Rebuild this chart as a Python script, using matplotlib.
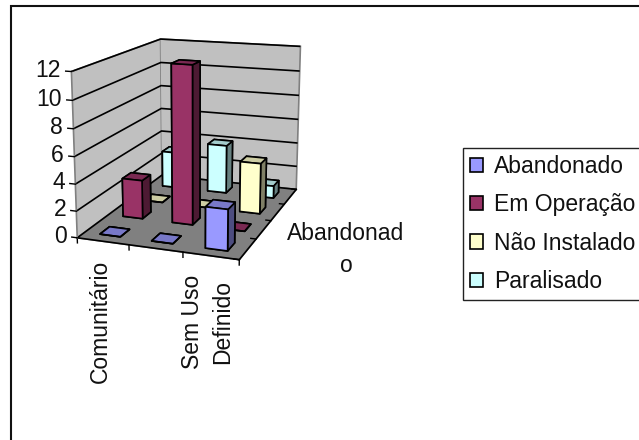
import numpy as np
import matplotlib
matplotlib.use('Agg')
import matplotlib.pyplot as plt
from matplotlib.patches import Patch, Rectangle
from mpl_toolkits.mplot3d import proj3d

plt.rcParams['font.family'] = ['Liberation Sans', 'DejaVu Sans']

# data
categories = ['Comunitário', '', 'Sem Uso\nDefinido']
series_names = ['Abandonado', 'Em Operação', 'Não Instalado', 'Paralisado']
abandonado = [0, 0, 3]
em_operacao = [3, 12, 0]
nao_instalado = [0, 0, 4]
paralisado = [3, 4, 1]
z_ticks = [0, 2, 4, 6, 8, 10, 12]
depth_label = 'Abandonad\no'

series_values = [abandonado, em_operacao, nao_instalado, paralisado]
front_colors = ['#9999FF', '#993366', '#FFFFCC', '#CCFFFF']
top_colors = ['#7878C8', '#7A2952', '#CDCDA3', '#A3CCCC']
side_colors = ['#4D4D80', '#4D1A33', '#808066', '#668080']

W, H = 639, 440
fig = plt.figure(figsize=(W / 100, H / 100), dpi=100, facecolor='white')

# outer chart frame (right and bottom sides fall outside the picture)
fig.add_artist(Rectangle((11 / W, -0.1), 1.2, 0.1 + (H - 6) / H, transform=fig.transFigure,
                         facecolor='white', edgecolor='#111111', linewidth=1.5, zorder=-5))

# axes placement from the fitted projection
s, cx, cy = 1632.0, 195.34, 303.49
side = s * 0.185
ax = fig.add_axes([(cx - 0.095 * s) / W, (cy - 0.095 * s) / H, side / W, side / H],
                  projection='3d', computed_zorder=False)
ax.patch.set_visible(False)
n_cat, n_ser = len(categories), len(series_names)
ax.set_xlim(0, n_cat)
ax.set_ylim(0, n_ser)
ax.set_zlim(0, 12)
ax.view_init(elev=14.46, azim=-70.3)
ax.set_proj_type('persp', focal_length=0.5474)
ax.set_box_aspect((1.004, 1.353, 1.0))

# panes
ax.xaxis.set_pane_color('#C0C0C0')
ax.yaxis.set_pane_color('#C0C0C0')
ax.zaxis.set_pane_color('#808080')
for a, out in ((ax.xaxis, 0.4), (ax.yaxis, 0.4), (ax.zaxis, 0.45)):
    a.pane.set_edgecolor('#808080')
    a.pane.set_linewidth(1.2)
    a.line.set_color('black')
    a.line.set_linewidth(1.2)
    a._axinfo['tick']['inward_factor'] = 0.0
    a._axinfo['tick']['outward_factor'] = out
    a._axinfo['tick']['linewidth'] = {True: 1.0, False: 0.5}
    a._axinfo['tick']['color'] = 'black'
ax.zaxis.line.set_color('#808080')
ax.xaxis._axinfo['grid'].update(color=(0, 0, 0, 0), linewidth=0)
ax.yaxis._axinfo['grid'].update(color=(0, 0, 0, 0), linewidth=0)
ax.zaxis._axinfo['grid'].update(color='#000000', linewidth=1.2, linestyle='-')

ax.set_xticks(range(n_cat + 1))
ax.set_xticklabels([''] * (n_cat + 1))
ax.set_yticks(range(n_ser + 1))
ax.set_yticklabels([''] * (n_ser + 1))
ax.set_zticks(z_ticks)
ax.set_zticklabels([''] * len(z_ticks))
ax.zaxis.set_ticks_position('lower')
ax.zaxis._get_tickdir = lambda pos: 0   # z ticks run along the x direction
ax.xaxis._get_tickdir = lambda pos: 2   # x ticks hang straight down

# bars, back to front, left to right
bw = 0.4
z = 10
for j in reversed(range(n_ser)):
    for i in range(n_cat):
        faces = [top_colors[j], top_colors[j], front_colors[j], front_colors[j],
                 side_colors[j], side_colors[j]]
        c = ax.bar3d(i + 0.5 - bw / 2, j + 0.5 - bw / 2, 0, bw, bw, series_values[j][i],
                     color=faces, edgecolor='black', linewidth=1.2, shade=False)
        c.set_zorder(z)
        z += 1

# value labels: projected through the 3D axes so they stay tied to the value scale
fig.canvas.draw()
M = ax.get_proj()
for v in z_ticks:
    px, py, _ = proj3d.proj_transform(-0.2, 0, v, M)
    wx, wy = ax.transData.transform((px, py))
    fig.text(wx / W, wy / H, str(v), ha='right', va='center', fontsize=16.5, color='#111111')

# axis labels placed as in the reference
fig.text(100.5 / W, 1 - 321 / H, categories[0], rotation=90, ha='center', va='center', fontsize=16.5, color='#111111')
fig.text(208 / W, 1 - 322 / H, categories[2], rotation=90, ha='center', va='center', fontsize=16.5,
         color='#111111', multialignment='center', linespacing=1.4)
fig.text(346 / W, 1 - 249.5 / H, depth_label, ha='center', va='center', fontsize=16.5, color='#111111',
         multialignment='center', linespacing=1.5)

# legend
handles = [Patch(facecolor=c, edgecolor='black', linewidth=1.2) for c in front_colors]
leg = fig.legend(handles, series_names, loc='upper left', bbox_to_anchor=(463 / W, 1 - 148 / H),
                 bbox_transform=fig.transFigure, fontsize=16.5, frameon=True, fancybox=False,
                 framealpha=1, edgecolor='#222222', labelspacing=0.67, handlelength=0.57,
                 handleheight=0.57, handletextpad=0.5, borderpad=0.3, borderaxespad=0)
leg.get_frame().set_linewidth(1.0)
for t in leg.get_texts():
    t.set_color('#111111')

fig.savefig('out.png', dpi=100)
